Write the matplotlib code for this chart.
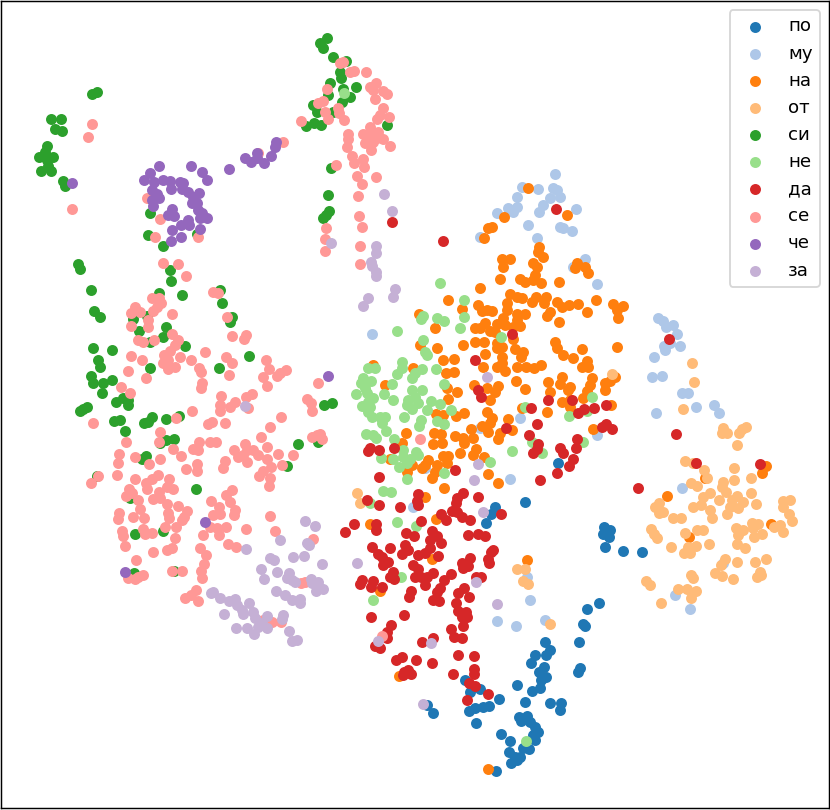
import matplotlib
matplotlib.use("Agg")
import matplotlib.pyplot as plt
import numpy as np

# 2d embedding of word vectors
labels = ["по", "му", "на", "от", "си", "не", "да", "се", "че", "за"]

po = [(525,502),(495,507),(491,514),(486,523),(604,527),(610,530),(603,534),(609,537),(605,547),(623,551),(642,552),
      (599,603),(587,609),(583,624),(585,626),(579,642),(580,668),(578,672),(545,642),(550,650),(546,655),(535,655),
      (531,663),(544,667),(539,672),(546,677),(541,680),(540,688),(532,691),(517,685),(465,680),(480,689),(470,692),
      (499,699),(525,702),(550,703),(561,703),(560,710),(427,705),(433,713),(469,711),(475,708),(483,707),(489,706),
      (476,723),(519,717),(527,716),(521,721),(530,722),(535,727),(538,732),(533,735),(535,740),(501,734),(510,741),
      (529,749),(523,748),(509,752),(515,757),(520,757),(511,763),(517,760),(496,771),(558,463)]

mu = [(555,174),(522,187),(517,197),(538,189),(553,188),(557,190),(560,197),(550,198),(543,205),(539,212),(497,213),
      (508,208),(513,212),(517,207),(528,225),(576,209),(560,227),(563,228),(572,231),(480,237),(537,238),(585,259),
      (573,267),(597,284),(372,334),(520,418),(597,435),(510,479),(480,428),(425,468),(658,318),(663,321),(666,327),
      (673,325),(677,334),(680,346),(664,346),(670,343),(665,350),(654,357),(652,377),(662,376),(682,393),(688,393),
      (696,407),(714,405),(719,413),(656,413),(682,488),(723,563),(675,595),(690,609),(413,507),(527,577),(530,600),
      (497,621),(516,626),(545,620)]

na = [(539,247),(538,252),(543,257),(533,263),(537,267),(502,259),(510,259),(503,267),(535,275),(520,279),(525,282),
      (533,280),(541,283),(500,279),(559,282),(480,288),(528,188),(567,215),(504,217),(492,227),(488,228),(484,238),
      (577,263),(575,268),(585,267),(588,273),(510,294),(517,297),(522,298),(536,297),(532,302),(546,297),(544,303),
      (557,302),(562,307),(569,305),(578,304),(596,300),(587,312),(613,304),(623,306),(617,310),(618,318),(448,300),
      (462,309),(478,305),(482,311),(487,310),(492,311),(507,303),(507,310),(517,314),(525,314),(550,312),(547,316),
      (559,322),(503,318),(497,324),(505,325),(517,320),(513,327),(520,326),(485,323),(475,328),(480,328),(490,331),
      (495,332),(419,314),(435,328),(475,342),(484,342),(463,345),(497,343),(497,348),(502,347),(513,339),(515,349),
      (523,352),(521,357),(555,342),(557,348),(563,355),(573,358),(582,349),(617,347),(420,345),(437,348),(485,354),
      (443,360),(454,359),(502,357),(502,363),(483,367),(497,367),(505,371),(517,367),(526,367),(534,368),(541,365),
      (587,361),(582,367),(588,367),(446,373),(454,372),(373,365),(413,368),(516,381),(548,382),(562,377),(560,384),
      (570,387),(592,378),(590,385),(587,391),(605,383),(605,390),(615,377),(610,381),(385,385),(447,388),(457,392),
      (474,385),(487,388),(498,386),(495,392),(525,389),(550,392),(568,390),(448,399),(490,400),(562,402),(570,400),
      (570,407),(583,398),(611,405),(522,408),(547,412),(487,412),(492,418),(436,414),(443,415),(456,416),(464,413),
      (508,419),(490,423),(482,426),(488,432),(471,429),(512,430),(500,433),(498,439),(593,429),(406,433),(434,433),
      (441,434),(455,436),(463,438),(473,438),(433,444),(442,443),(464,443),(402,443),(476,449),(473,455),(460,453),
      (443,456),(448,456),(484,457),(447,463),(390,459),(412,465),(422,468),(428,460),(425,465),(437,465),(435,472),
      (432,478),(407,472),(488,474),(498,483),(444,488),(425,497),(436,519),(370,524),(432,559),(527,560),(380,591),
      (399,676),(488,769),(667,496),(689,537),(705,478),(766,466),(762,473),(771,524)]

ot = [(357,493),(360,503),(517,569),(525,569),(523,581),(528,584),(550,624),(612,374),(692,363),(694,382),(683,409),
      (723,428),(727,433),(722,433),(746,427),(742,429),(739,433),(737,445),(685,461),(693,463),(704,470),(707,478),
      (734,468),(751,478),(734,480),(723,482),(722,487),(726,492),(691,483),(697,486),(710,493),(703,497),(719,500),
      (751,493),(737,496),(732,500),(743,502),(756,504),(738,508),(730,507),(727,514),(693,507),(701,505),(710,510),
      (712,518),(659,503),(655,507),(663,512),(659,513),(673,518),(681,518),(783,501),(790,500),(783,507),(789,514),
      (792,521),(780,525),(774,527),(783,532),(651,529),(654,534),(657,538),(671,547),(685,533),(697,530),(703,530),
      (709,544),(696,546),(688,547),(684,553),(690,553),(736,528),(743,530),(752,523),(758,524),(753,528),(738,535),
      (754,537),(762,534),(737,544),(745,548),(725,559),(721,565),(737,562),(755,562),(766,559),(715,573),(722,576),
      (733,579),(760,572),(761,575),(757,577),(691,575),(693,578),(646,581),(650,585),(678,589),(687,589),(696,591),
      (691,598),(661,603)]

si = [(327,38),(320,43),(323,48),(333,57),(346,61),(340,72),(341,78),(330,83),(343,89),(356,87),(328,95),(350,97),
      (342,102),(313,105),(317,112),(333,112),(387,125),(314,123),(306,126),(321,125),(97,92),(92,94),(51,119),(61,119),
      (55,129),(62,131),(47,146),(45,152),(39,157),(53,157),(47,160),(48,166),(41,171),(51,171),(63,181),(65,186),
      (150,213),(148,235),(163,246),(197,234),(331,168),(328,195),(329,211),(326,215),(323,218),(78,264),(80,269),
      (91,290),(170,270),(171,281),(159,293),(182,295),(220,290),(222,303),(94,311),(100,317),(133,319),(147,316),
      (232,317),(230,322),(139,331),(166,327),(163,337),(150,342),(93,348),(112,350),(185,346),(249,356),(98,360),
      (100,367),(150,368),(219,368),(91,376),(93,383),(103,383),(112,380),(102,393),(116,402),(123,398),(128,400),
      (128,405),(87,407),(83,409),(80,411),(324,405),(332,403),(114,421),(120,420),(125,431),(144,423),(148,422),
      (152,417),(166,419),(179,416),(174,439),(166,440),(160,443),(298,444),(318,442),(146,456),(142,459),(287,466),
      (97,476),(196,489),(130,498),(135,534),(163,531),(134,573),(174,571)]

ne = [(344,93),(440,283),(464,300),(464,317),(423,316),(421,319),(437,318),(444,321),(460,328),(397,331),(501,337),
      (423,340),(425,352),(427,355),(436,369),(402,362),(422,369),(368,368),(375,368),(402,368),(397,374),(415,373),
      (412,378),(363,378),(371,381),(392,384),(444,384),(361,383),(365,388),(412,390),(422,390),(356,394),(384,394),
      (367,393),(373,398),(393,400),(408,400),(415,397),(431,401),(440,404),(368,402),(362,406),(370,407),(407,405),
      (418,403),(412,409),(427,410),(451,410),(368,412),(372,417),(380,417),(385,417),(404,417),(421,420),(419,426),
      (437,421),(444,424),(382,423),(386,431),(366,434),(373,435),(376,438),(394,439),(525,407),(592,397),(569,416),
      (587,411),(583,442),(532,442),(542,453),(512,451),(381,458),(403,450),(416,452),(418,455),(393,459),(403,457),
      (410,459),(399,467),(407,463),(490,462),(444,473),(407,479),(383,491),(391,492),(370,503),(397,522),(416,526),
      (401,577),(373,600),(526,741)]

da = [(392,222),(443,241),(556,209),(512,334),(475,360),(478,390),(481,397),(548,400),(572,400),(531,408),(578,413),
      (584,409),(594,408),(606,405),(537,424),(506,428),(606,424),(602,427),(612,429),(529,435),(577,439),(576,448),
      (538,444),(537,449),(533,453),(560,448),(563,453),(573,459),(569,466),(557,473),(540,480),(455,470),(379,477),
      (370,448),(368,451),(379,450),(394,448),(638,488),(669,339),(676,434),(696,463),(760,464),(367,500),(379,505),
      (400,507),(418,494),(417,501),(418,505),(463,493),(457,498),(456,503),(478,497),(452,511),(457,512),(462,517),
      (470,520),(441,514),(446,520),(501,514),(354,524),(345,532),(376,524),(376,530),(421,521),(406,533),(414,536),
      (432,531),(437,536),(468,535),(478,534),(485,536),(430,540),(441,543),(372,547),(390,548),(405,545),(408,550),
      (402,554),(418,555),(425,553),(430,548),(438,556),(493,550),(491,552),(378,554),(382,557),(388,562),(383,565),
      (470,558),(488,559),(489,563),(462,563),(468,566),(463,568),(413,565),(418,569),(393,572),(390,577),(394,579),
      (433,573),(415,577),(421,577),(427,577),(451,574),(425,585),(444,580),(476,577),(481,577),(362,580),(360,584),
      (373,581),(371,587),(382,587),(440,588),(437,592),(411,591),(409,597),(464,588),(458,593),(469,597),(433,600),
      (439,601),(456,603),(371,617),(404,615),(458,611),(466,612),(462,617),(467,617),(463,626),(391,625),(387,632),
      (451,629),(454,637),(462,638),(387,638),(375,646),(380,648),(422,642),(433,638),(458,655),(474,656),(396,660),
      (402,657),(416,660),(432,663),(474,669),(474,674),(453,674),(404,672),(408,670),(403,675),(411,674),(469,683),
      (475,686),(488,694),(467,700)]

se = [(340,63),(343,62),(350,72),(354,71),(366,72),(376,83),(370,87),(373,90),(327,89),(383,91),(387,94),(375,99),
      (318,103),(323,101),(338,108),(325,112),(339,113),(383,108),(328,119),(344,120),(380,115),(377,119),(389,117),
      (301,121),(370,127),(363,134),(348,134),(348,139),(372,133),(378,132),(370,138),(377,138),(383,139),(365,143),
      (373,142),(371,150),(390,146),(347,147),(283,142),(352,156),(363,159),(354,163),(336,165),(364,167),(357,176),
      (376,177),(362,184),(358,196),(359,216),(362,227),(326,228),(325,239),(325,251),(360,246),(360,264),(92,124),
      (88,137),(72,209),(147,198),(160,219),(155,237),(198,237),(163,263),(178,264),(186,276),(258,153),(213,292),
      (218,293),(152,298),(159,298),(161,303),(157,307),(153,311),(135,307),(131,313),(140,312),(172,314),(227,317),
      (148,320),(148,327),(131,326),(172,334),(178,340),(232,336),(246,335),(244,339),(138,340),(143,342),(154,340),
      (175,345),(170,351),(205,352),(164,355),(131,356),(142,360),(180,357),(191,360),(226,357),(232,363),(266,360),
      (163,363),(168,360),(175,367),(168,369),(128,371),(199,368),(201,372),(269,369),(286,370),(280,373),(277,376),
      (229,375),(146,378),(263,377),(202,383),(201,388),(121,387),(267,386),(318,383),(130,393),(221,396),(252,394),
      (246,397),(307,399),(311,403),(235,402),(230,407),(220,405),(220,411),(248,408),(312,411),(192,411),(281,417),
      (176,418),(93,423),(212,422),(208,424),(225,423),(270,427),(160,432),(261,437),(317,435),(312,437),(320,434),
      (322,439),(159,442),(126,442),(199,442),(210,442),(216,442),(267,447),(173,449),(193,449),(198,450),(234,450),
      (245,444),(247,450),(253,450),(258,455),(278,454),(293,455),(119,454),(135,457),(181,456),(238,457),(243,455),
      (247,462),(267,459),(160,459),(118,463),(149,464),(225,461),(197,464),(271,467),(282,465),(223,468),(186,469),
      (197,471),(263,471),(259,476),(117,475),(98,476),(91,483),(270,478),(135,479),(158,475),(152,479),(169,479),
      (146,483),(147,489),(173,489),(269,486),(129,489),(167,487),(232,490),(159,492),(153,499),(126,496),(132,493),
      (226,495),(160,498),(167,504),(138,500),(211,501),(230,502),(178,506),(219,507),(140,509),(235,510),(187,511),
      (119,513),(168,513),(213,515),(220,514),(234,515),(184,517),(270,516),(118,519),(133,517),(144,518),(169,518),
      (182,520),(165,527),(176,527),(210,527),(217,528),(226,527),(246,529),(275,531),(122,531),(143,529),(152,533),
      (145,534),(123,536),(203,535),(219,535),(175,538),(313,539),(125,546),(228,544),(236,547),(200,548),(153,552),
      (167,550),(172,548),(206,555),(136,560),(204,564),(172,571),(182,571),(201,571),(143,575),(138,577),(128,578),
      (135,579),(202,578),(196,590),(191,595),(185,598),(198,601),(301,583),(305,582),(263,620),(272,622),(281,622),
      (420,439),(382,636)]

che = [(276,142),(275,147),(257,153),(245,158),(271,156),(257,158),(251,162),(264,163),(229,169),(159,166),(191,166),
       (202,172),(150,173),(207,180),(144,180),(154,182),(163,180),(170,181),(180,182),(183,183),(171,189),(182,189),
       (152,190),(188,192),(199,193),(157,194),(193,197),(152,200),(159,198),(192,203),(197,203),(153,206),(198,210),
       (172,209),(168,215),(174,216),(202,213),(200,218),(207,218),(188,220),(181,225),(189,225),(172,230),(200,229),
       (181,237),(171,241),(72,183),(328,376),(205,522),(125,572)]

za = [(384,194),(392,211),(331,243),(376,246),(376,253),(371,262),(372,266),(376,272),(376,276),(395,289),(393,297),
      (368,298),(363,306),(487,377),(478,464),(474,480),(245,406),(305,521),(315,526),(280,540),(307,543),(309,545),
      (246,549),(270,558),(274,560),(293,557),(304,556),(322,564),(261,569),(277,572),(289,573),(264,579),(287,578),
      (292,580),(295,582),(311,579),(318,582),(312,583),(323,589),(316,591),(213,592),(211,593),(276,591),(285,595),
      (220,598),(292,600),(300,599),(300,603),(229,601),(235,599),(237,605),(249,603),(242,610),(243,614),(253,612),
      (224,614),(255,618),(267,616),(283,615),(282,619),(262,623),(236,628),(247,628),(258,627),(267,628),(254,634),
      (289,631),(292,641),(297,640),(357,563),(483,512),(476,582),(497,604),(378,641),(431,643),(423,704)]

series = [po, mu, na, ot, si, ne, da, se, che, za]

DPI = 131.5
fig = plt.figure(figsize=(830 / DPI, 810 / DPI), dpi=DPI)
ax = fig.add_axes([1 / 830, 2 / 810, 828 / 830, 807 / 810])
cmap = plt.get_cmap("tab20")

for i, pts in enumerate(series):
    pts = np.array(pts)
    ax.scatter(pts[:, 0], pts[:, 1], s=25, color=cmap(i), label=labels[i])

ax.set_xlim(1, 829)
ax.set_ylim(808, 1)
ax.set_xticks([])
ax.set_yticks([])
ax.legend(loc="upper right")

fig.savefig("out.png", dpi=DPI)
